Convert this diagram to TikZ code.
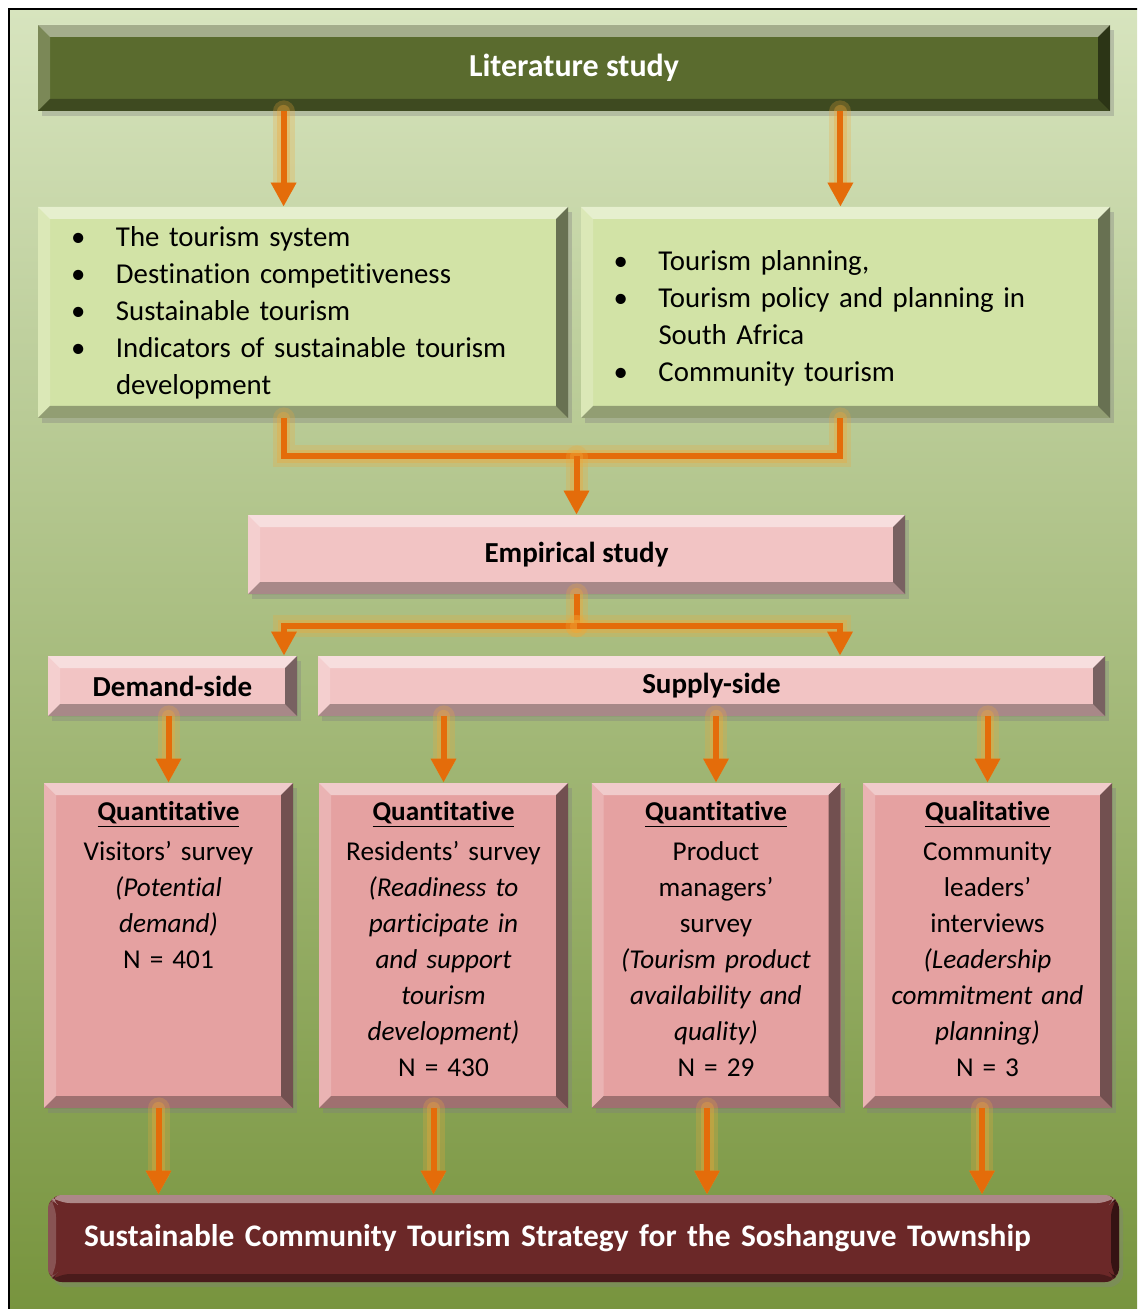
\documentclass[tikz,border=0pt]{standalone}
\usepackage{fontspec}
\setmainfont{Carlito}[Ligatures=NoCommon]
\usetikzlibrary{positioning,calc,shadows,arrows.meta}

\definecolor{litgreen}{HTML}{5A6B2E}
\definecolor{topicgreen}{HTML}{D2E3A6}
\definecolor{studypink}{HTML}{F2C4C4}
\definecolor{methpink}{HTML}{E5A1A1}
\definecolor{stratred}{HTML}{6B2828}
\definecolor{flowor}{HTML}{E46C0A}
\definecolor{glowor}{HTML}{F0A838}
\definecolor{bgtop}{HTML}{D7E4BE}
\definecolor{bgbot}{HTML}{76933C}

\newcommand{\topicitem}[1]{\makebox[22.5pt][l]{\textbullet}#1}
\newcommand{\topicmore}[1]{\hspace*{22.5pt}#1}

\tikzset{
    bevel/.style={path picture={
        \def\bb{path picture bounding box}
        \fill[white,opacity=.45] (\bb.north west) -- (\bb.north east) -- ([shift={(-#1,-#1)}]\bb.north east) -- ([shift={(#1,-#1)}]\bb.north west) -- cycle;
        \fill[white,opacity=.2] (\bb.south west) -- (\bb.north west) -- ([shift={(#1,-#1)}]\bb.north west) -- ([shift={(#1,#1)}]\bb.south west) -- cycle;
        \fill[black,opacity=.5] (\bb.north east) -- (\bb.south east) -- ([shift={(-#1,#1)}]\bb.south east) -- ([shift={(-#1,-#1)}]\bb.north east) -- cycle;
        \fill[black,opacity=.3] (\bb.south east) -- (\bb.south west) -- ([shift={(#1,#1)}]\bb.south west) -- ([shift={(-#1,#1)}]\bb.south east) -- cycle;
    }},
    panel/.style={inner sep=0pt, align=center, bevel=6pt,
        drop shadow={shadow xshift=2pt, shadow yshift=-2.5pt, opacity=.35}},
    litbox/.style={panel, fill=litgreen, text=white, minimum width=536pt, minimum height=43pt,
        font=\bfseries\fontsize{16}{19}\selectfont},
    topicbox/.style={panel, fill=topicgreen, text width=232pt, align=left, minimum height=105.5pt,
        font=\fontsize{14.4}{18.5}\selectfont},
    studybox/.style={panel, fill=studypink, minimum height=30pt,
        font=\bfseries\fontsize{14.5}{17}\selectfont},
    methbox/.style={panel, fill=methpink, text width=124.5pt, text height=18.5pt, text depth=144pt,
        font=\fontsize{13.6}{18}\selectfont},
    stratbox/.style={panel, bevel=4pt, fill=stratred, rounded corners=7pt, text=white, text width=499.5pt,
        align=left, inner xsep=18pt, minimum height=43.5pt, font=\bfseries\fontsize{15.7}{18}\selectfont},
    flowline/.style={draw=flowor, line width=3pt,
        preaction={draw=glowor, line width=11pt, opacity=.25, line cap=round},
        preaction={draw=glowor, line width=6.5pt, opacity=.35, line cap=round}},
    flow/.style={flowline, -{Triangle[width=12pt,length=12pt]}}
}

\begin{document}
\begin{tikzpicture}[x=0.5pt, y=-0.5pt]
    \clip (0,0) rectangle (1137,1309);
    \useasboundingbox (0,0) rectangle (1137,1309);
    % frame and background
    \draw[line width=1.2pt, top color=bgtop, bottom color=bgbot] (9,9) rectangle (1160,1330);

    \path node[litbox] (lit) at (574,68) {Literature study}
        node[topicbox, minimum width=265pt] (tl) at (303,312.5) {\topicitem{The tourism system}\\
            \topicitem{Destination competitiveness}\\
            \topicitem{Sustainable tourism}\\
            \topicitem{Indicators of sustainable tourism}\\
            \topicmore{development}}
        node[topicbox, minimum width=264.5pt, text height=15.5pt] (tr) at (845.5,312.5) {\topicitem{Tourism planning,}\\
            \topicitem{Tourism policy and planning in}\\
            \topicmore{South Africa}\\
            \topicitem{Community tourism}}
        node[studybox, minimum width=328.5pt, minimum height=39.5pt] (emp) at (576.5,554.5) {Empirical study}
        node[studybox, minimum width=124.5pt] (dem) at (172.5,686) {Demand-side}
        node[studybox, minimum width=393.5pt] (sup) at (711.5,686) {Supply-side}
        node[methbox] (m1) at (168.5,945.5) {\textbf{\underline{Quantitative}}\\[2pt]
            Visitors’ survey\\ \textit{(Potential}\\ \textit{demand)}\\ N = 401}
        node[methbox] (m2) at (443.5,945.5) {\textbf{\underline{Quantitative}}\\[2pt]
            Residents’ survey\\ \textit{(Readiness to}\\ \textit{participate in}\\ \textit{and support}\\
            \textit{tourism}\\ \textit{development)}\\ N = 430}
        node[methbox] (m3) at (716,945.5) {\textbf{\underline{Quantitative}}\\[2pt]
            Product\\ managers’\\ survey\\ \textit{(Tourism product}\\ \textit{availability and}\\
            \textit{quality)}\\ N = 29}
        node[methbox] (m4) at (987.5,945.5) {\textbf{\underline{Qualitative}}\\[2pt]
            Community\\ leaders’\\ interviews\\ \textit{(Leadership}\\ \textit{commitment and}\\
            \textit{planning)}\\ N = 3}
        node[stratbox] (strat) at (583.5,1238.5) {Sustainable Community Tourism Strategy for the Soshanguve Township};

    % literature study to topics
    \draw[flow] ($(lit.south west)+(246,0)$) -- ($(tl.north west)+(246,0)$);
    \draw[flow] ($(lit.south east)+(-270,0)$) -- ($(tr.north east)+(-270,0)$);
    % topics join into empirical study
    \draw[flowline] ($(tl.south west)+(246,0)$) -- ++(0,38) coordinate (topicjoin) -| ($(tr.south east)+(-270,0)$);
    \draw[flow] (emp.north |- topicjoin) -- (emp.north);
    % empirical study splits
    \draw[flowline] (emp.south) -- ++(0,32) coordinate (empsplit);
    \draw[flow] (empsplit) -| ($(dem.north)+(111.5,0)$);
    \draw[flow] (empsplit) -| ($(sup.north)+(128.5,0)$);
    % sides to methods
    \draw[flow] (m1.north |- dem.south) -- (m1.north);
    \foreach \m in {m2,m3,m4}
        \draw[flow] (\m.north |- sup.south) -- (\m.north);
    % methods to strategy
    \foreach \m/\dx in {m1/-10,m2/-10,m3/-9,m4/-5.5}
        \draw[flow] ($(\m.south)+(\dx,0)$) -- ($(\m.south |- strat.north)+(\dx,0)$);
\end{tikzpicture}
\end{document}
